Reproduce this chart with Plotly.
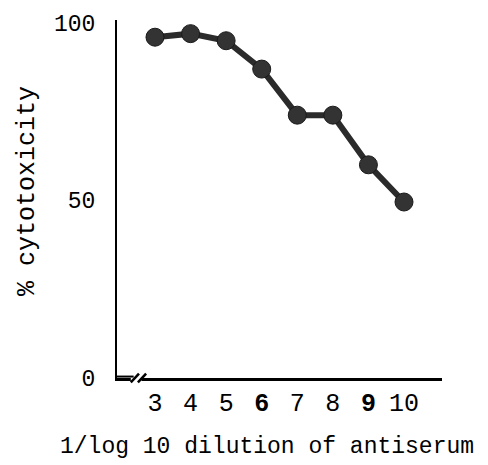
import plotly.graph_objects as go

dilution = [3, 4, 5, 6, 7, 8, 9, 10]
cytotoxicity = [96, 97, 95, 87, 74, 74, 60, 49.5]
x_tick_vals = [3, 4, 5, 6, 7, 8, 9, 10]
x_tick_text = ["3", "4", "5", "<b>6</b>", "7", "8", "<b>9</b>", "10"]
y_tick_vals = [0, 50, 100]
y_tick_text = ["0", "50", "100"]

FONT = "Liberation Mono"

fig = go.Figure()
fig.add_trace(go.Scatter(
    x=dilution, y=cytotoxicity, mode="lines+markers",
    line=dict(color="#2b2b2b", width=6),
    marker=dict(color="#333333", size=18, line=dict(color="#1a1a1a", width=1)),
    showlegend=False, hoverinfo="skip",
))

x0, x1 = 1.932, 11.068
fig.update_xaxes(
    range=[x0, x1], showgrid=False, zeroline=False,
    showline=True, linecolor="black", linewidth=3,
    tickvals=x_tick_vals, ticktext=x_tick_text, ticks="",
    tickfont=dict(family=FONT, size=25, color="black"),
    ticklabelstandoff=0,
)
fig.update_yaxes(
    range=[-0.15, 100.85], showgrid=False, zeroline=False,
    showline=True, linecolor="black", linewidth=2,
    tickvals=y_tick_vals, ticktext=y_tick_text, ticks="",
    tickfont=dict(family=FONT, size=23, color="black"),
    ticklabelstandoff=15,
)

# axis break on the x axis
fig.add_shape(type="rect", xref="x", yref="paper", x0=2.32, x1=2.62, y0=-0.01, y1=0.01,
              fillcolor="white", line=dict(width=0), layer="above")
fig.add_shape(type="line", xref="x", yref="paper", x0=2.32, x1=2.55, y0=-0.012, y1=0.012,
              line=dict(color="black", width=2.5), layer="above")
fig.add_shape(type="line", xref="x", yref="paper", x0=2.52, x1=2.75, y0=-0.012, y1=0.012,
              line=dict(color="black", width=2.5), layer="above")
fig.add_shape(type="line", xref="x", yref="paper", x0=1.932, x1=2.4, y0=0.004, y1=0.004,
              line=dict(color="black", width=2), layer="above")

fig.add_annotation(
    text="% cytotoxicity", xref="paper", yref="paper",
    x=-0.277, y=0.522, xanchor="center", yanchor="middle",
    textangle=-90, showarrow=False,
    font=dict(family=FONT, size=25, color="black"),
)
fig.add_annotation(
    text="1/log 10 dilution of antiserum", xref="paper", yref="paper",
    x=0.463, y=-0.193, xanchor="center", yanchor="middle", showarrow=False,
    font=dict(family=FONT, size=23, color="black"),
)

fig.update_layout(
    width=488, height=465,
    margin=dict(l=117, r=46, t=20, b=87),
    paper_bgcolor="white", plot_bgcolor="white",
)

fig.write_html("out.html")
